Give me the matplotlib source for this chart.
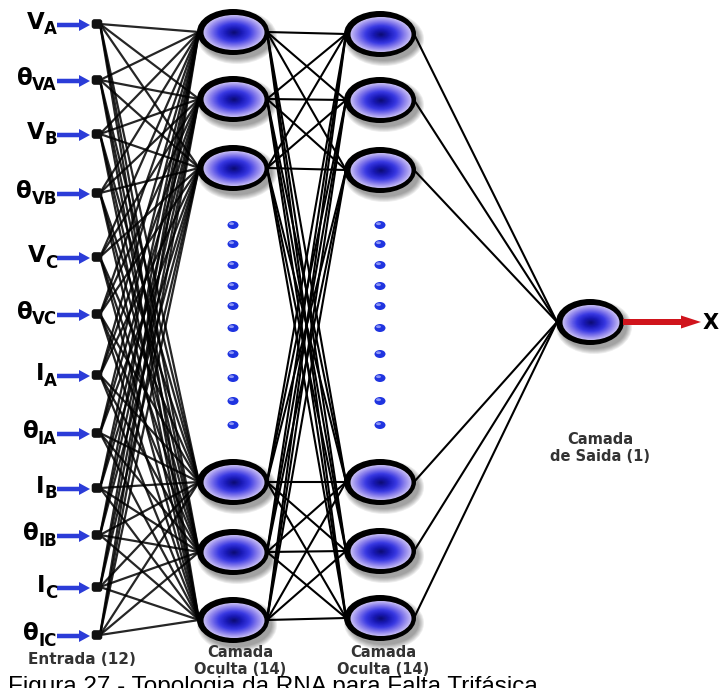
import numpy as np
import matplotlib.pyplot as plt
from matplotlib.patches import Ellipse, FancyBboxPatch, FancyArrow
from matplotlib.colors import LinearSegmentedColormap

# Network description
input_main = ['V', 'θ', 'V', 'θ', 'V', 'θ', 'I', 'θ', 'I', 'θ', 'I', 'θ']
input_sub = ['A', 'VA', 'B', 'VB', 'C', 'VC', 'A', 'IA', 'B', 'IB', 'C', 'IC']
layer_titles = ['Entrada (12)', 'Camada\nOculta (14)', 'Camada\nOculta (14)', 'Camada\nde Saida (1)']
output_label = 'X'
caption = 'Figura 27 - Topologia da RNA para Falta Trifásica'

# Layout (pixel coordinates)
input_x = 97
input_y = [24, 80, 134, 193, 257, 314, 375, 433, 488, 535, 587, 635]
h1_x = 233
h1_y = [32, 99, 168, 482, 552, 620]
h2_x = 380
h2_y = [34, 100, 170, 482, 551, 618]
out_x, out_y = 590, 322
node_w, node_h = 72, 46
dots_y = [225, 244, 265, 286, 306, 328, 354, 378, 401, 425]

fig = plt.figure(figsize=(7.25, 6.88), dpi=100)
ax = fig.add_axes([0, 0, 1, 1])
ax.set_xlim(0, 725)
ax.set_ylim(688, 0)
ax.axis('off')

cmap = LinearSegmentedColormap.from_list('node', ['#c4baf4', '#8076ec', '#3838e2', '#1a1ab8', '#0c0c78'])


def big_node(x, y, w=node_w, h=node_h):
    # soft shadow
    for k in range(6):
        ax.add_patch(Ellipse((x + 4, y + 5), w + 8 - k * 2, h + 8 - k * 2,
                             color='black', alpha=0.07, lw=0, zorder=3))
    ax.add_patch(Ellipse((x, y), w, h, color='black', lw=0, zorder=4))
    iw, ih = w - 11, h - 11
    n = 30
    for i in range(n):
        s = 1 - i / n
        ax.add_patch(Ellipse((x + 1, y + 0.5), iw * s, ih * s,
                             color=cmap(i / (n - 1)), lw=0, zorder=5))


# connections
for yi in input_y:
    for yj in h1_y:
        ax.plot([input_x + 3, h1_x - node_w / 2 + 2], [yi, yj], color='black', lw=1.6, alpha=0.85, zorder=1)
for yi in h1_y:
    for yj in h2_y:
        ax.plot([h1_x + node_w / 2 - 2, h2_x - node_w / 2 + 2], [yi, yj], color='black', lw=1.5, zorder=1)
for yi in h2_y:
    ax.plot([h2_x + node_w / 2 - 2, out_x - 33], [yi, out_y], color='black', lw=1.5, zorder=1)

# nodes
for y in h1_y:
    big_node(h1_x, y)
for y in h2_y:
    big_node(h2_x, y)
big_node(out_x, out_y, 68, 46)

for x in (h1_x, h2_x):
    for y in dots_y:
        ax.add_patch(Ellipse((x, y), 11, 8, color='#1f34e0', lw=0, zorder=4))
        ax.add_patch(Ellipse((x - 1.5, y - 1.3), 5, 2.8, color='#8a94f4', lw=0, zorder=5))

# input nodes, arrows and labels
fig.canvas.draw()
renderer = fig.canvas.get_renderer()
for y, m, s in zip(input_y, input_main, input_sub):
    ax.add_patch(FancyBboxPatch((input_x - 4, y - 3.5), 8, 7, boxstyle='round,pad=0.6,rounding_size=2',
                                color='#111111', zorder=6))
    ax.add_patch(FancyArrow(57, y + 1, 33, 0, width=4.5, head_width=12, head_length=11,
                            length_includes_head=True, color='#2b3cd8', lw=0, zorder=6))
    st = ax.text(57, y + 10.5, s, ha='right', va='baseline', fontsize=12, fontweight='bold',
                 family='DejaVu Sans', zorder=6)
    bb = st.get_window_extent(renderer)
    left = ax.transData.inverted().transform((bb.x0, bb.y0))[0]
    ax.text(left + 0.5, y + 5, m, ha='right', va='baseline', fontsize=16.5, fontweight='bold',
            family='DejaVu Sans', zorder=6)

# output arrow
ax.add_patch(FancyArrow(623, out_y, 78, 0, width=6, head_width=13, head_length=20,
                        length_includes_head=True, color='#d0141c', lw=0, zorder=6))
ax.text(703, out_y + 1, output_label, ha='left', va='center', fontsize=15, fontweight='bold',
        family='DejaVu Sans')

# layer titles
ax.text(82, 660, layer_titles[0], ha='center', va='center', fontsize=11, fontweight='bold',
        color='#333333', family='DejaVu Sans')
for x, t in zip((h1_x + 7, h2_x + 3), layer_titles[1:3]):
    ax.text(x, 661, t, ha='center', va='center', fontsize=10.5, fontweight='bold',
            color='#333333', family='DejaVu Sans', linespacing=1.2)
ax.text(600, 448, layer_titles[3], ha='center', va='center', fontsize=10.5, fontweight='bold',
        color='#333333', family='DejaVu Sans', linespacing=1.2)

# caption (cut off at the bottom edge, as in the source)
ax.text(8, 693, caption, ha='left', va='baseline', fontsize=17.5, family='Liberation Sans', color='black')

fig.savefig('out.png', dpi=100)
